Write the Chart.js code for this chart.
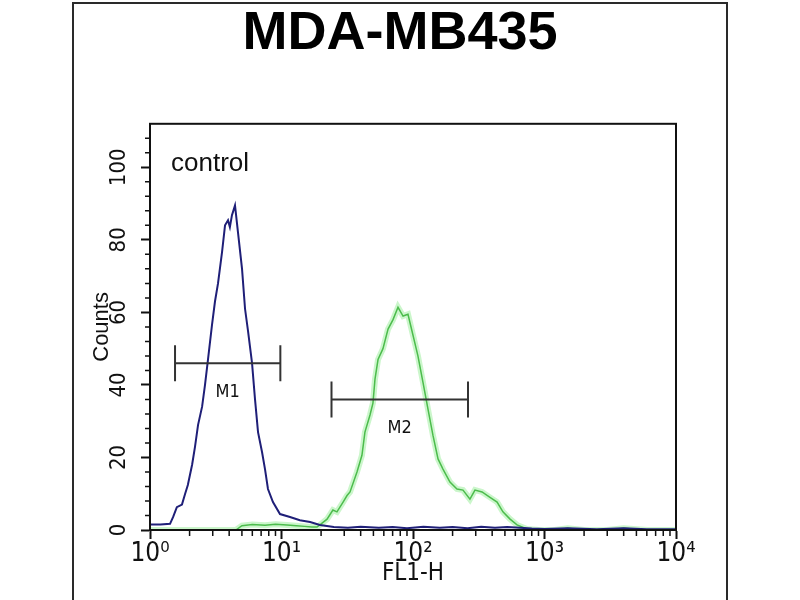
<!DOCTYPE html>
<html><head><meta charset="utf-8">
<script src="https://cdn.jsdelivr.net/npm/chart.js@4.4.0/dist/chart.umd.min.js"></script>
<style>
html,body{margin:0;padding:0;background:#fff;width:800px;height:600px;overflow:hidden;}
#frame{position:absolute;left:72px;top:2px;width:652px;height:700px;border:2px solid #2a2a2a;}
#wrap{position:absolute;left:0;top:0;width:800px;height:600px;}
</style></head><body>
<div id="frame"></div>
<div id="wrap"><canvas id="c"></canvas></div>
<script>
const titleText = 'MDA-MB435';
const sampleLabel = 'control';
const xAxisTitle = 'FL1-H';
const yAxisTitle = 'Counts';
const xTickValues = [1, 10, 100, 1000, 10000];
const xTickLabels = ['10\u2070', '10\u00B9', '10\u00B2', '10\u00B3', '10\u2074'];
const xMinorTicks = [2,3,4,5,6,7,8,9,20,30,40,50,60,70,80,90,200,300,400,500,600,700,800,900,2000,3000,4000,5000,6000,7000,8000,9000];
const yTickValues = [0, 20, 40, 60, 80, 100];
const yMinorTicks = [4,8,12,16,24,28,32,36,44,48,52,56,64,68,72,76,84,88,92,96,104,108];

// control (blue) histogram
const controlX = [1.0,1.2,1.42,1.50,1.60,1.75,1.85,1.94,2.09,2.20,2.32,2.49,2.62,2.76,2.96,3.12,3.29,3.53,3.72,3.92,4.05,4.20,4.43,4.67,5.01,5.28,5.56,5.97,6.29,6.63,7.11,7.49,7.89,8.61,9.74,11.6,13.8,16.5,19.6,25,32,40,55,70,90,120,160,200,260,330,420,520,650,800,1000,1500,2500,4000,6000,10000];
const controlY = [1.5,1.5,1.7,3.6,6.3,7.0,10,12.4,18,23,29,34,40,47,56.5,63,68,76.6,84,85.4,83.5,86.8,89.5,82,72,61,55,46,36,27,21.5,16.8,11.3,7.7,4.4,3.6,2.7,2.2,1.4,0.8,0.6,0.9,0.6,0.8,0.5,0.9,0.6,0.8,0.5,0.9,0.6,0.8,0.6,0.4,0.3,0.5,0.2,0.5,0.2,0.2];

// stained (green) histogram
const stainedX = [1,4.5,5.0,6.0,7.5,9.0,11,13,15,17,18.6,19.6,22.2,24.6,26.4,29.4,31.5,33.2,37.5,40.9,43.1,47.1,49.6,51.4,54.2,59.1,64.6,70.5,76.9,84.0,91.6,100,109,119,130,142,155,169,191,216,240,271,296,335,385,436,483,547,618,736,900,1200,1500,2000,3000,4000,6000,10000];
const stainedY = [0,0,1.2,1.5,1.3,1.6,1.4,1.2,1.0,0.8,0.8,1.4,3,5.5,5,7.7,9.5,10.5,16,20.6,27,31.7,35,41.6,47,50,55.4,58,61.4,59,59.5,53.7,48,40.8,33.3,26,19.6,16.8,13.2,11.3,11,8.5,11,10.5,9,7.7,5,3,1.4,0.3,0,0,0.5,0,0,0.5,0,0];

// gate markers
const markerNames = ['M1', 'M2'];
const markerStart = [1.55, 24];
const markerEnd = [9.8, 262];
const markerLevel = [46, 36];

const NARROW = '"Liberation Sans Narrow", "DejaVu Sans Condensed", "Liberation Sans", sans-serif';
const REGULAR = '"Liberation Sans", Arial, sans-serif';
const INK = '#111';

const pts = (xs, ys) => xs.map((v, i) => ({x: v, y: ys[i]}));

const markerSets = markerNames.map((n, i) => ({
  label: n,
  data: [{x: markerStart[i], y: markerLevel[i]}, {x: markerEnd[i], y: markerLevel[i]}],
  showLine: true,
  borderColor: '#333',
  borderWidth: 2,
  pointStyle: 'line',
  pointRotation: 90,
  pointRadius: 18,
  pointBorderWidth: 2,
  pointBorderColor: '#333',
  pointHoverRadius: 18
}));

const extras = {
  id: 'extras',
  afterDraw(chart) {
    const {ctx, chartArea: a, scales: {x, y}} = chart;
    ctx.save();
    ctx.strokeStyle = INK;
    ctx.lineWidth = 2;
    ctx.strokeRect(a.left, a.top, a.right - a.left, a.bottom - a.top);
    ctx.lineWidth = 1.5;
    ctx.beginPath();
    xMinorTicks.forEach(v => {
      const px = x.getPixelForValue(v);
      ctx.moveTo(px, a.bottom);
      ctx.lineTo(px, a.bottom + 6);
    });
    yMinorTicks.forEach(v => {
      const py = y.getPixelForValue(v);
      ctx.moveTo(a.left, py);
      ctx.lineTo(a.left - 5, py);
    });
    ctx.stroke();
    ctx.fillStyle = INK;
    ctx.textBaseline = 'middle';
    ctx.textAlign = 'left';
    ctx.font = '26px ' + REGULAR;
    ctx.fillText(sampleLabel, a.left + 21, a.top + 40);
    ctx.font = '18px ' + NARROW;
    ctx.textAlign = 'center';
    markerNames.forEach((n, i) => {
      const mid = Math.sqrt(markerStart[i] * markerEnd[i]);
      ctx.fillText(n, x.getPixelForValue(mid), y.getPixelForValue(markerLevel[i]) + 29);
    });
    ctx.restore();
  }
};

new Chart(document.getElementById('c'), {
  type: 'scatter',
  data: {
    datasets: [
      ...markerSets,
      {label: 'control', data: pts(controlX, controlY), showLine: true, borderColor: '#1f1f78', borderWidth: 2, pointRadius: 0, tension: 0},
      {label: 'stained', data: pts(stainedX, stainedY), showLine: true, borderColor: '#4cbc4c', borderWidth: 1.5, pointRadius: 0, tension: 0},
      {label: 'stained halo', data: pts(stainedX, stainedY), showLine: true, borderColor: 'rgba(140,235,140,0.45)', borderWidth: 6, pointRadius: 0, tension: 0}
    ]
  },
  options: {
    responsive: true,
    maintainAspectRatio: false,
    animation: false,
    layout: {padding: {left: 0, right: 0, top: 0, bottom: 0}},
    plugins: {
      legend: {display: false},
      tooltip: {enabled: false},
      title: {display: true, text: titleText, color: '#000', font: {family: REGULAR, size: 54, weight: 'bold'}, padding: {top: 2, bottom: 57}}
    },
    scales: {
      x: {
        type: 'logarithmic', min: 1, max: 10000,
        afterBuildTicks: s => { s.ticks = xTickValues.map(v => ({value: v})); },
        afterFit: s => { s.height = 70; },
        ticks: {autoSkip: false, maxRotation: 0, minRotation: 0, color: INK, padding: 0,
          font: {family: NARROW, size: 26},
          callback: (v, i) => xTickLabels[i]},
        grid: {drawOnChartArea: false, drawTicks: true, tickLength: 9, tickWidth: 2, tickColor: INK},
        border: {display: true, color: INK, width: 2},
        title: {display: true, text: xAxisTitle, color: INK, font: {family: NARROW, size: 24}, padding: {top: 0, bottom: 12}}
      },
      y: {
        min: 0, max: 112,
        afterBuildTicks: s => { s.ticks = yTickValues.map(v => ({value: v})); },
        afterFit: s => { s.width = 150; },
        ticks: {minRotation: 90, maxRotation: 90, crossAlign: 'center', padding: 3, color: INK,
          font: {family: NARROW, size: 22},
          callback: v => String(v)},
        grid: {drawOnChartArea: false, drawTicks: true, tickLength: 9, tickWidth: 2, tickColor: INK},
        border: {display: true, color: INK, width: 2},
        title: {display: true, text: yAxisTitle, color: INK, font: {family: REGULAR, size: 22}, padding: {top: 89, bottom: 0}}
      },
      yRight: {
        position: 'right', min: 0, max: 112,
        afterFit: s => { s.width = 124; },
        ticks: {display: false},
        grid: {display: false, drawTicks: false},
        border: {display: false}
      }
    }
  },
  plugins: [extras]
});
</script>
</body></html>
